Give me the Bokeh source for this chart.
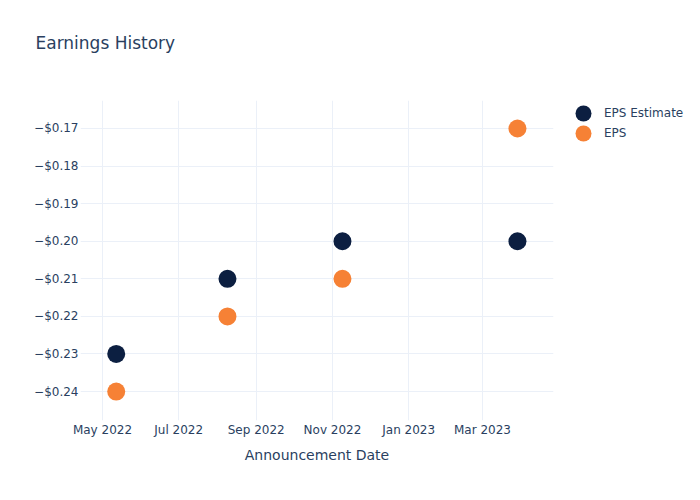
import pandas as pd
from bokeh.plotting import figure
from bokeh.models import (Range1d, FixedTicker, CustomJSTickFormatter, DatetimeTickFormatter,
                          Legend, LegendItem, ColumnDataSource)
from bokeh.embed import file_html
from bokeh.resources import INLINE

# ---- data ----
dates = ["2022-05-12", "2022-08-09", "2022-11-09", "2023-03-29"]
eps_estimate = [-0.23, -0.21, -0.20, -0.20]
eps_actual = [-0.24, -0.22, -0.21, -0.17]
y_ticks = [-0.24, -0.23, -0.22, -0.21, -0.20, -0.19, -0.18, -0.17]
x_tick_dates = ["2022-05-01", "2022-07-01", "2022-09-01", "2022-11-01", "2023-01-01", "2023-03-01"]
x_range_dates = ["2022-04-13 10:00", "2023-04-26 20:00"]
y_range_vals = [-0.2477, -0.16255]
series_names = ["EPS Estimate", "EPS"]

FONT = "DejaVu Sans"
TXT = "#2a3f5f"
GRID = "#ebf0f8"
NAVY = "#0c1f41"
ORANGE = "#f68135"

x_dt = pd.to_datetime(dates)
src = ColumnDataSource(dict(x=x_dt, est=eps_estimate, act=eps_actual))

xr = pd.to_datetime(x_range_dates)
p = figure(frame_width=473, frame_height=320, output_backend="svg", toolbar_location=None,
           x_axis_type="datetime",
           x_range=Range1d(xr[0], xr[1]), y_range=Range1d(y_range_vals[0], y_range_vals[1]),
           min_border_left=80, min_border_right=147, min_border_top=100, min_border_bottom=80)
p.outline_line_color = None
p.background_fill_color = "white"
p.border_fill_color = "white"

# title (second, empty line lifts the text block up inside the top border)
p.title.text = "Earnings History\n"
p.title.text_font = FONT
p.title.text_font_size = "17px"
p.title.text_font_style = "normal"
p.title.text_color = TXT
p.title.align = "left"
p.title.vertical_align = "top"
p.title.offset = -45
p.title.standoff = 52

r1 = p.scatter("x", "est", source=src, size=18, color=NAVY, line_color=None)
r2 = p.scatter("x", "act", source=src, size=18, color=ORANGE, line_color=None)

# legend swatches: round dots (not drawn in the plot itself: y is NaN)
sw_src = ColumnDataSource(dict(x=x_dt[:1], y=[float("nan")]))
l1 = p.ellipse("x", "y", source=sw_src, width=16, height=16, width_units="screen",
               height_units="screen", fill_color=NAVY, line_color=None)
l2 = p.ellipse("x", "y", source=sw_src, width=16, height=16, width_units="screen",
               height_units="screen", fill_color=ORANGE, line_color=None)

# axes
tick_ms = [pd.Timestamp(d).value // 10**6 for d in x_tick_dates]
p.xaxis.ticker = FixedTicker(ticks=tick_ms)
p.xaxis.formatter = DatetimeTickFormatter(days="%b %Y", months="%b %Y", years="%b %Y",
                                          hours="%b %Y", context=None)
p.yaxis.ticker = FixedTicker(ticks=y_ticks)
p.yaxis.formatter = CustomJSTickFormatter(code="""
    const v = Math.abs(tick).toFixed(2);
    return (tick < 0 ? '\u2212' : '') + '$' + v;
""")
for ax in (p.xaxis[0], p.yaxis[0]):
    ax.axis_line_color = None
    ax.major_tick_line_color = None
    ax.minor_tick_line_color = None
    ax.major_tick_out = 0
    ax.major_tick_in = 0
    ax.major_label_text_font = FONT
    ax.major_label_text_font_size = "12px"
    ax.major_label_text_color = TXT
    ax.major_label_standoff = 2
p.xaxis.axis_label = "Announcement Date"
p.xaxis.axis_label_text_font = FONT
p.xaxis.axis_label_text_font_size = "14px"
p.xaxis.axis_label_text_font_style = "normal"
p.xaxis.axis_label_text_color = TXT
p.xaxis.axis_label_standoff = 7

p.xgrid.grid_line_color = GRID
p.ygrid.grid_line_color = GRID
p.xgrid.grid_line_width = 1
p.ygrid.grid_line_width = 1

legend = Legend(items=[LegendItem(label=series_names[0], renderers=[l1]),
                       LegendItem(label=series_names[1], renderers=[l2])],
                location=(20, 277))
legend.margin = 0
legend.padding = 0
legend.glyph_width = 20
legend.glyph_height = 20
legend.label_height = 19
legend.spacing = 0
legend.label_standoff = 11
legend.border_line_color = None
legend.background_fill_alpha = 0
legend.label_text_font = FONT
legend.label_text_font_size = "12px"
legend.label_text_color = TXT
p.add_layout(legend, "right")

open("out.html", "w").write(file_html(p, INLINE))
